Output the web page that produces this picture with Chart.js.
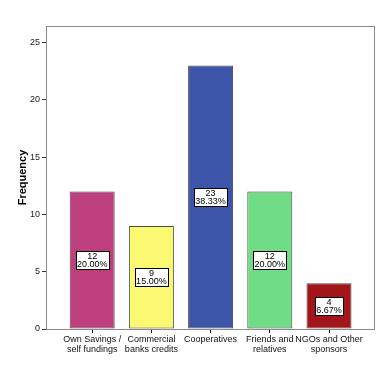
<!DOCTYPE html>
<html>
<head>
<meta charset="utf-8">
<script src="https://cdn.jsdelivr.net/npm/chart.js@4/dist/chart.umd.min.js"></script>
<style>
html,body{margin:0;padding:0;background:#fff;}
#wrap{width:382px;height:382px;}
</style>
</head>
<body>
<div id="wrap"><canvas id="c" width="382" height="382"></canvas></div>
<script>
const categories = [
  ["Own Savings /", "self fundings"],
  ["Commercial", "banks credits"],
  ["Cooperatives"],
  ["Friends and", "relatives"],
  ["NGOs and Other", "sponsors"]
];
const frequencies = [12, 9, 23, 12, 4];
const barColors = ["#BD3F7E", "#FBF872", "#3D55A9", "#70DD86", "#A2161B"];
const yTicks = [0, 5, 10, 15, 20, 25];

const total = frequencies.reduce((a, b) => a + b, 0);
const FONT = "'Liberation Sans', Arial, sans-serif";

const framePlugin = {
  id: 'frame',
  beforeDatasetsDraw(chart) {
    const {ctx, chartArea: a} = chart;
    ctx.save();
    ctx.strokeStyle = '#8a8a8a';
    ctx.lineWidth = 1;
    ctx.strokeRect(Math.round(a.left) + 0.5, Math.round(a.top) + 0.5, Math.round(a.right - a.left), Math.round(a.bottom - a.top));
    ctx.restore();
  }
};

const labelPlugin = {
  id: 'barLabels',
  afterDatasetsDraw(chart) {
    const {ctx} = chart;
    const meta = chart.getDatasetMeta(0);
    const yScale = chart.scales.y;
    ctx.save();
    ctx.font = "9px " + FONT;
    ctx.textAlign = 'center';
    ctx.textBaseline = 'middle';
    meta.data.forEach((bar, i) => {
      const v = frequencies[i];
      const cx = bar.x;
      const cy = yScale.getPixelForValue(v / 2);
      const t1 = String(v);
      const t2 = (v / total * 100).toFixed(2) + '%';
      const w = Math.ceil(Math.max(ctx.measureText(t1).width, ctx.measureText(t2).width)) + 2;
      const h = 18;
      const x0 = Math.round(cx - w / 2) + 0.5, y0 = Math.round(cy - h / 2) + 0.5;
      ctx.fillStyle = '#ffffff';
      ctx.fillRect(x0, y0, w, h);
      ctx.strokeStyle = '#000000';
      ctx.lineWidth = 1;
      ctx.strokeRect(x0, y0, w, h);
      ctx.fillStyle = '#000000';
      ctx.fillText(t1, cx, y0 + 5);
      ctx.fillText(t2, cx, y0 + 13.5);
    });
    ctx.restore();
  }
};

new Chart(document.getElementById('c'), {
  type: 'bar',
  data: {
    datasets: [{
      data: frequencies.map((v, i) => ({x: i, y: v})),
      backgroundColor: barColors,
      borderColor: '#4a4a4a',
      borderWidth: 1,
      borderSkipped: false,
      barPercentage: 0.76,
      categoryPercentage: 1.0
    }]
  },
  options: {
    responsive: false,
    animation: false,
    devicePixelRatio: 1,
    layout: {padding: {top: 26, right: 8, left: 0, bottom: 0}},
    plugins: {legend: {display: false}, tooltip: {enabled: false}},
    scales: {
      x: {
        type: 'linear',
        min: -0.78,
        max: 4.76,
        offset: false,
        afterFit(s) { s.height = 53; },
        afterBuildTicks(s) { s.ticks = categories.map((c, i) => ({value: i})); },
        border: {display: true, color: '#000000', width: 1},
        grid: {display: true, offset: false, drawOnChartArea: false, tickLength: 4, color: '#000000'},
        ticks: {
          autoSkip: false,
          maxRotation: 0,
          padding: 2,
          color: '#111111',
          font: {family: FONT, size: 9, lineHeight: 1.1},
          callback: (v) => categories[v] || ''
        }
      },
      y: {
        min: 0,
        max: 26.45,
        afterFit(s) { s.width = 46; },
        afterBuildTicks(s) { s.ticks = yTicks.map(v => ({value: v})); },
        border: {display: true, color: '#333333', width: 1},
        grid: {display: true, drawOnChartArea: false, tickLength: 4, color: '#333333'},
        ticks: {
          padding: 2,
          color: '#222222',
          font: {family: FONT, size: 9}
        },
        title: {
          display: true,
          text: 'Frequency',
          color: '#000000',
          font: {family: FONT, size: 11, weight: 'bold'},
          padding: {top: 16, bottom: 0}
        }
      }
    }
  },
  plugins: [framePlugin, labelPlugin]
});
</script>
</body>
</html>
